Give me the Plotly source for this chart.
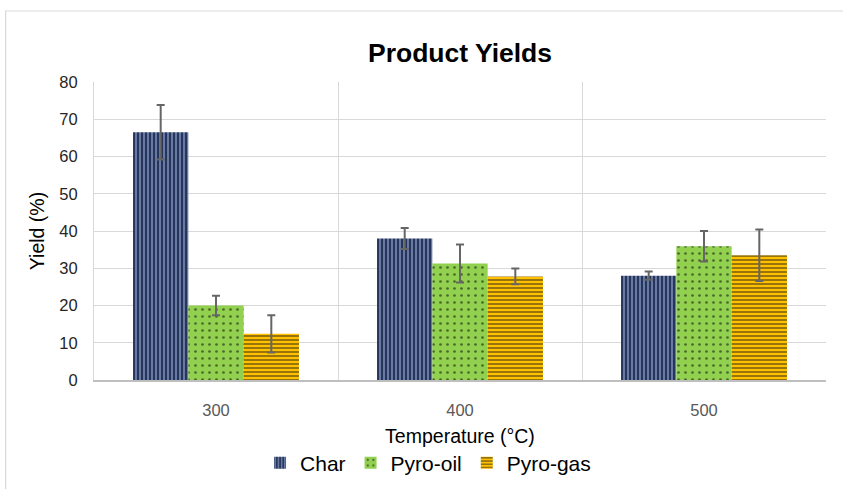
import plotly.graph_objects as go

temperatures = ["300", "400", "500"]
char = [66.5, 38.0, 28.0]
char_err = [7.3, 2.8, 1.1]
oil = [20.0, 31.3, 35.9]
oil_err = [2.6, 5.1, 4.1]
gas = [12.4, 27.8, 33.5]
gas_err = [5.0, 2.1, 6.9]

W, H = 843, 489
L, R, T, B = 93.5, 16.5, 82, 109
pw = W - L - R
ph = H - T - B

FONT = "Liberation Sans, Arial, sans-serif"
err_style = dict(type="data", thickness=2, width=4, color="#666666")

fig = go.Figure()
fig.add_trace(go.Bar(
    name="Char", x=temperatures, y=char,
    error_y=dict(array=char_err, **err_style),
    marker=dict(color="#2a3a5e", line=dict(width=0),
                pattern=dict(shape="|", fgcolor="#a6c0ee", bgcolor="#27355a",
                             size=4, solidity=0.5, fillmode="overlay")),
))
fig.add_trace(go.Bar(
    name="Pyro-oil", x=temperatures, y=oil,
    error_y=dict(array=oil_err, **err_style),
    marker=dict(color="#92d050", line=dict(width=0),
                pattern=dict(shape=".", fgcolor="#000000", bgcolor="#92d050",
                             size=7, solidity=0.12, fillmode="overlay")),
))
fig.add_trace(go.Bar(
    name="Pyro-gas", x=temperatures, y=gas,
    error_y=dict(array=gas_err, **err_style),
    marker=dict(color="#ffc000", line=dict(width=0),
                pattern=dict(shape="-", fgcolor="#1a1a1a", bgcolor="#ffc000",
                             size=4, solidity=0.45, fillmode="overlay")),
))

# outer chart border (partially outside view like the reference)
fig.add_shape(type="rect", xref="paper", yref="paper",
              x0=(5 - L) / pw, x1=(W + 5 - L) / pw,
              y0=(H - B - (H + 5)) / ph, y1=(H - B - 11) / ph,
              line=dict(color="#d9d9d9", width=1.2), fillcolor="rgba(0,0,0,0)", layer="below")

fig.update_layout(
    width=W, height=H,
    margin=dict(l=L, r=R, t=T, b=B, autoexpand=False),
    paper_bgcolor="white", plot_bgcolor="white",
    font=dict(family=FONT, color="#000000"),
    barmode="group", bargap=0.32, bargroupgap=0,
    title=dict(text="<b>Product Yields</b>", x=(L + pw / 2) / W, xanchor="center",
               y=1 - 53 / H, yanchor="middle", yref="container",
               font=dict(size=26.5, color="#000000", family=FONT)),
    xaxis=dict(type="category", tickson="boundaries", showgrid=True, gridcolor="#d9d9d9",
               gridwidth=1, ticks="", showline=True, linecolor="#bfbfbf", linewidth=1.5,
               mirror=False, zeroline=False, ticklabelstandoff=14,
               tickfont=dict(size=16.5, color="#595959"),
               title=dict(text="Temperature (°C)", font=dict(size=19.5, color="#000000"), standoff=12)),
    yaxis=dict(range=[0, 80], dtick=10, showgrid=True, gridcolor="#d9d9d9", gridwidth=1.2,
               zeroline=False, showline=True, linecolor="#d9d9d9", linewidth=1,
               ticks="", ticklabelstandoff=12,
               tickfont=dict(size=16.5, color="#262626"),
               title=dict(text="Yield (%)", font=dict(size=19.5, color="#000000"), standoff=9)),
    legend=dict(orientation="h", x=(L + pw / 2 - 32 - L) / pw, xanchor="center", xref="paper",
                y=-(463 - (H - B)) / ph, yanchor="middle",
                font=dict(size=21, color="#000000"), itemwidth=30,
                traceorder="normal"),
    showlegend=True,
)

fig.write_html("out.html", config={"displayModeBar": False},
               post_script="document.body.style.margin='0';document.body.style.padding='0';")
